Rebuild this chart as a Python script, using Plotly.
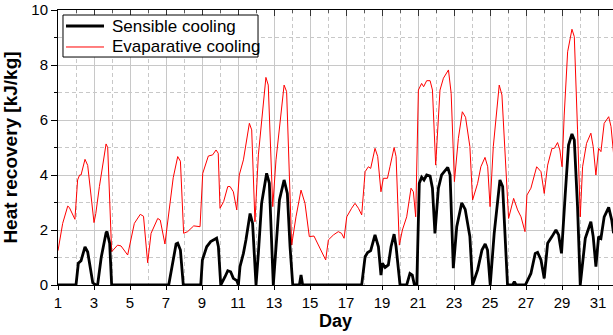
import plotly.graph_objects as go

# Evaporative cooling (red)
evap_day = [1.0, 1.26, 1.54, 1.63, 1.94, 2.09, 2.2, 2.28, 2.5, 2.65, 3.0, 3.1, 3.3, 3.67, 3.76, 3.98,
            4.31, 4.5, 4.87, 5.24, 5.57, 5.75, 5.98, 6.17, 6.54, 6.68, 6.94, 7.19, 7.4, 7.65, 7.8, 7.98,
            8.2, 8.54, 8.89, 9.04, 9.35, 9.59, 9.78, 9.9, 10.0, 10.2, 10.43, 10.56, 10.74, 10.93, 11.07,
            11.3, 11.63, 11.76, 11.94, 12.13, 12.55, 12.68, 12.93, 13.11, 13.56, 13.7, 13.98, 14.22,
            14.5, 14.72, 14.96, 15.22, 15.46, 15.87, 16.02, 16.3, 16.57, 16.75, 16.89, 17.04, 17.31,
            17.5, 17.69, 17.87, 18.06, 18.24, 18.37, 18.61, 18.76, 18.94, 19.07, 19.3, 19.44, 19.67,
            19.78, 19.96, 20.13, 20.37, 20.61, 20.74, 20.87, 21.02, 21.2, 21.31, 21.48, 21.67, 21.8,
            21.98, 22.22, 22.41, 22.69, 22.84, 23.02, 23.24, 23.46, 23.64, 23.88, 24.03, 24.31, 24.49,
            24.72, 24.87, 25.0, 25.18, 25.51, 25.66, 26.03, 26.31, 26.53, 26.72, 26.94, 27.05, 27.27,
            27.59, 27.83, 28.01, 28.2, 28.44, 28.57, 28.75, 28.88, 29.0, 29.12, 29.31, 29.55, 29.68,
            29.86, 30.01, 30.14, 30.36, 30.6, 30.73, 30.88, 31.03, 31.16, 31.34, 31.59, 31.72, 31.86]
evap_val = [1.25, 2.24, 2.87, 2.82, 2.39, 3.82, 4.0, 4.0, 4.57, 4.35, 2.27, 2.6, 3.58, 5.13, 5.0, 1.21,
            1.45, 1.42, 1.09, 2.24, 2.57, 2.5, 0.81, 1.88, 2.42, 2.36, 1.49, 2.73, 3.9, 4.67, 4.5, 1.88,
            1.94, 2.15, 2.12, 4.06, 4.69, 4.73, 4.91, 4.79, 2.79, 3.03, 3.58, 3.58, 3.39, 2.73, 4.0,
            4.55, 5.88, 5.64, 2.3, 4.73, 7.55, 7.27, 2.85, 4.55, 7.27, 7.03, 1.45, 2.48,
            3.45, 2.97, 1.76, 1.78, 1.45, 0.91, 1.64, 1.82, 1.94, 1.88, 1.7, 2.48, 2.79,
            2.97, 2.79, 2.55, 4.12, 4.3, 4.24, 4.97, 4.67, 3.39, 3.88, 3.88, 4.3, 5.0,
            4.67, 1.45, 2.0, 2.48, 3.52, 3.39, 2.48, 7.09, 7.33, 7.21, 7.43, 7.43, 7.09,
            4.36, 7.09, 7.52, 7.82, 6.97, 3.76, 5.33, 6.3, 6.1, 5.03, 3.09, 3.7, 4.3,
            4.64, 4.3, 2.85, 5.03, 7.27, 6.91, 2.42, 3.15, 2.73, 2.48, 1.94, 3.27, 3.52,
            4.3, 4.12, 3.33, 4.36, 4.97, 4.97, 5.18, 4.91, 4.3, 6.18, 8.48, 9.3, 9.03,
            5.64, 2.48, 4.3, 5.15, 5.52, 5.03, 4.0, 4.97, 4.85, 5.88, 6.12, 5.76, 4.79]

# Sensible cooling (black)
sens_day = [1.0, 2.0, 2.13, 2.28, 2.5, 2.65, 2.93, 3.1, 3.2, 3.4, 3.67, 3.72, 3.87, 3.98, 7.15, 7.56,
            7.65, 7.8, 7.96, 8.93, 9.02, 9.26, 9.48, 9.67, 9.81, 9.91, 10.04, 10.28, 10.43, 10.59,
            10.74, 10.93, 11.02, 11.11, 11.3, 11.44, 11.67, 11.81, 12.0, 12.13, 12.31, 12.59, 12.74,
            12.96, 13.11, 13.3, 13.56, 13.74, 13.89, 14.04, 14.41, 14.5, 14.59, 17.87, 18.06, 18.2,
            18.37, 18.61, 18.8, 18.94, 19.02, 19.17, 19.35, 19.5, 19.67, 19.78, 20.0, 20.37, 20.55,
            20.68, 20.8, 20.93, 21.07, 21.2, 21.33, 21.48, 21.67, 21.8, 21.94, 22.13, 22.31, 22.65,
            22.78, 22.96, 23.15, 23.43, 23.62, 23.88, 24.03, 24.31, 24.55, 24.73, 24.86, 25.01, 25.23,
            25.55, 25.7, 25.97, 26.25, 26.35, 26.45, 26.96, 27.27, 27.51, 27.64, 27.83, 28.01, 28.2,
            28.44, 28.66, 28.81, 28.97, 29.18, 29.36, 29.55, 29.68, 29.86, 30.01, 30.29, 30.6, 30.73,
            30.88, 31.03, 31.16, 31.34, 31.59, 31.76, 31.86]
sens_val = [0, 0, 0.79, 0.88, 1.39, 1.2, 0.08, 0, 0, 1.0, 1.9, 1.94, 1.52, 0, 0, 1.49,
            1.52, 1.27, 0, 0, 0.91, 1.39, 1.58, 1.64, 1.7, 1.39, 0, 0.3, 0.52, 0.48,
            0.24, 0.16, 0, 0.67, 1.15, 1.64, 2.6, 2.24, 0, 1.15, 2.97, 4.06, 3.7,
            0, 1.39, 3.09, 3.82, 3.33, 1.39, 0, 0, 0.36, 0, 0, 1.03, 1.18,
            1.25, 1.82, 1.39, 0.36, 0.79, 0.64, 0.73, 1.39, 1.85, 1.39, 0, 0, 0.42,
            0.36, 0, 0, 3.7, 3.92, 3.82, 4.0, 3.96, 3.52, 1.88, 3.52, 4.0, 4.28,
            4.0, 0.61, 2.12, 2.99, 2.75, 1.76, 0, 0.55, 1.27, 1.49, 1.27, 0, 1.88,
            3.82, 3.58, 0, 0, 0.12, 0, 0, 0.42, 1.15, 1.19, 0.91, 0.24, 1.52,
            1.76, 2.0, 1.82, 1.15, 3.33, 5.09, 5.49, 5.27, 2.85, 0, 1.7, 2.3, 1.76,
            0.67, 1.76, 1.7, 2.48, 2.82, 2.36, 1.88]

series_names = ["Sensible cooling", "Evaparative cooling"]
x_ticks = [1, 3, 5, 7, 9, 11, 13, 15, 17, 19, 21, 23, 25, 27, 29, 31]
y_ticks = [0, 2, 4, 6, 8, 10]

FONT = "Liberation Sans, Arial, sans-serif"
GRID = "#c8c8c8"
DASH = "4px,3px"

fig = go.Figure()
fig.add_trace(go.Scatter(x=evap_day, y=evap_val, mode="lines", name=series_names[1],
                         line=dict(color="#ff0000", width=1), showlegend=False))
fig.add_trace(go.Scatter(x=sens_day, y=sens_val, mode="lines", name=series_names[0],
                         line=dict(color="black", width=2.8), showlegend=False))
# dummy trace so the top (mirror) axis renders
fig.add_trace(go.Scatter(x=[1], y=[0], xaxis="x2", mode="lines", showlegend=False,
                         hoverinfo="skip", line=dict(width=0)))

# Legend box (drawn in paper coordinates, like the original's boxed legend)
fig.add_shape(type="rect", xref="paper", yref="paper", x0=0.009, x1=0.3604, y0=0.829, y1=0.9818,
              line=dict(color="black", width=1), fillcolor="white", layer="above")
fig.add_shape(type="line", xref="paper", yref="paper", x0=0.0144, x1=0.0829, y0=0.9418, y1=0.9418,
              line=dict(color="black", width=3), layer="above")
fig.add_shape(type="line", xref="paper", yref="paper", x0=0.0144, x1=0.0829, y0=0.8655, y1=0.8655,
              line=dict(color="#ff0000", width=1), layer="above")
fig.add_annotation(xref="paper", yref="paper", x=0.0937, y=0.9418, xanchor="left", yanchor="middle",
                   text=series_names[0], showarrow=False, font=dict(size=17, family=FONT, color="black"))
fig.add_annotation(xref="paper", yref="paper", x=0.0937, y=0.8655, xanchor="left", yanchor="middle",
                   text=series_names[1], showarrow=False, font=dict(size=17, family=FONT, color="black"))

fig.update_layout(
    width=613, height=335,
    margin=dict(l=58, r=0, t=10, b=50),
    plot_bgcolor="white", paper_bgcolor="white",
    font=dict(family=FONT, color="black", size=15),
    showlegend=False,
    xaxis=dict(range=[1, 31.83], tickvals=x_ticks, ticktext=[str(v) for v in x_ticks],
               showline=True, linecolor="black", linewidth=1,
               ticks="outside", ticklen=4, tickcolor="black",
               showgrid=True, gridcolor=GRID, gridwidth=1, zeroline=False,
               minor=dict(dtick=1, tick0=0, showgrid=True, gridcolor=GRID,
                          griddash=DASH, gridwidth=1),
               title=dict(text="<b>Day</b>", font=dict(size=18, family=FONT), standoff=4),
               tickfont=dict(size=15), automargin=False),
    xaxis2=dict(overlaying="x", side="top", matches="x", range=[1, 31.83],
                tickvals=x_ticks, showticklabels=False, showgrid=False,
                showline=True, linecolor="black", linewidth=1,
                ticks="inside", ticklen=6, tickcolor="#333333",
                minor=dict(dtick=1, tick0=0, ticks="inside", ticklen=3, tickcolor="#555555",
                           showgrid=False),
                zeroline=False),
    yaxis=dict(range=[0, 10], tickvals=y_ticks, showline=True, linecolor="black", linewidth=1,
               ticks="outside", ticklen=6, tickcolor="black",
               showgrid=True, gridcolor=GRID, gridwidth=1, zeroline=False,
               minor=dict(dtick=1, tick0=0, ticks="outside", ticklen=3, tickcolor="black",
                          showgrid=True, gridcolor=GRID, griddash=DASH, gridwidth=1),
               title=dict(text="<b>Heat recovery [kJ/kg]</b>", font=dict(size=19, family=FONT),
                          standoff=8),
               tickfont=dict(size=15), automargin=False),
)

fig.write_html("out.html")
